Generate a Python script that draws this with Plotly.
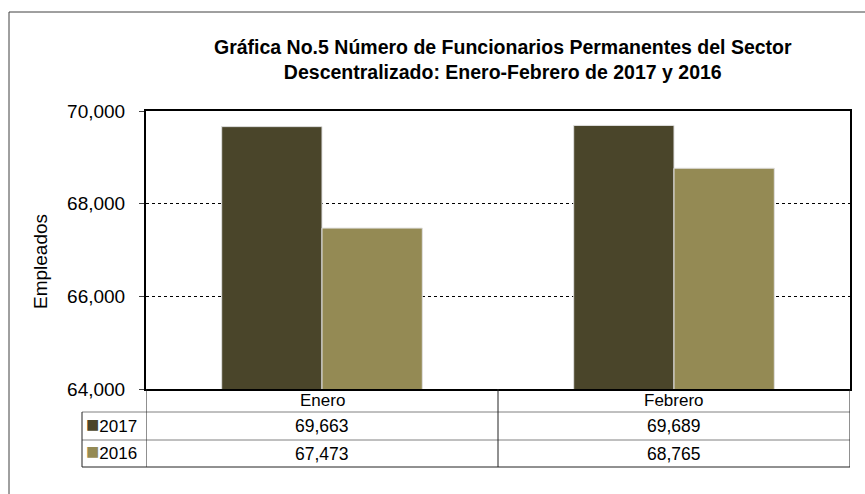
import plotly.graph_objects as go

# datos
meses = ["Enero", "Febrero"]
anios = ["2017", "2016"]
empleados_2017 = [69663, 69689]
empleados_2016 = [67473, 68765]
colores = ["#4A452A", "#948A54"]

titulo = "<b>Gráfica No.5 Número de Funcionarios Permanentes del Sector<br>Descentralizado: Enero-Febrero de 2017 y 2016</b>"

W, H = 865, 494
L, R, T, B = 146, 850, 111, 389
FONT = "Liberation Sans, Arial, sans-serif"


def px(xp):
    return (xp - L) / (R - L)


def py(yp):
    return (B - yp) / (B - T)


fig = go.Figure()
for anio, vals, col in zip(anios, [empleados_2017, empleados_2016], colores):
    fig.add_trace(
        go.Bar(
            x=meses,
            y=vals,
            name=anio,
            marker=dict(color=col, line=dict(color="#e0e0e0", width=1)),
        )
    )

fig.update_layout(
    width=W,
    height=H,
    margin=dict(l=L, r=W - R, t=T, b=H - B, pad=0),
    paper_bgcolor="white",
    plot_bgcolor="white",
    showlegend=False,
    barmode="group",
    bargap=0.43,
    bargroupgap=0,
    font=dict(family=FONT, color="black"),
)
fig.update_xaxes(
    range=[-0.5, 1.5],
    showticklabels=False,
    ticks="",
    showgrid=False,
    showline=True,
    mirror=True,
    linecolor="black",
    linewidth=2,
)
fig.update_yaxes(
    range=[64000, 70000],
    tickvals=[64000, 66000, 68000, 70000],
    tickformat=",d",
    tickfont=dict(size=19),
    ticks="outside",
    ticklen=5,
    tickcolor="#404040",
    ticklabelstandoff=10,
    showgrid=True,
    gridcolor="black",
    griddash="dot",
    gridwidth=1,
    showline=True,
    mirror=True,
    linecolor="black",
    linewidth=2,
    zeroline=False,
    automargin=False,
)


def texto(txt, x, y, size, xref="paper", **kw):
    fig.add_annotation(text=txt, xref=xref, yref="paper", x=x, y=y,
                       xanchor=kw.pop("xanchor", "center"), yanchor="middle",
                       showarrow=False, font=dict(size=size), **kw)


# titulo y eje
texto(titulo, px(503), py(59), 19.5, align="center")
texto("Empleados", px(40), py(262), 19, textangle=-90)

# marco exterior
line_outer = dict(color="#404040", width=1)
fig.add_shape(type="line", xref="paper", yref="paper",
              x0=px(9), x1=px(9), y0=py(12), y1=py(494), line=line_outer)
fig.add_shape(type="line", xref="paper", yref="paper",
              x0=px(9), x1=px(865), y0=py(12), y1=py(12), line=line_outer)

# tabla de datos
filas = [389, 412, 440, 467]
dark = dict(color="#222222", width=1)
gray = dict(color="#808080", width=1)
fig.add_shape(type="line", xref="paper", yref="paper",
              x0=px(82), x1=1, y0=py(412), y1=py(412), line=gray)
fig.add_shape(type="line", xref="paper", yref="paper",
              x0=px(82), x1=1, y0=py(440), y1=py(440), line=gray)
fig.add_shape(type="line", xref="paper", yref="paper",
              x0=px(82), x1=1, y0=py(467), y1=py(467), line=dark)
fig.add_shape(type="line", xref="paper", yref="paper",
              x0=px(82), x1=px(82), y0=py(412), y1=py(467), line=dark)
for xv in [-0.5, 0.5, 1.5]:
    fig.add_shape(type="line", xref="x", yref="paper",
                  x0=xv, x1=xv, y0=0, y1=py(467), line=dark)

for i, mes in enumerate(meses):
    texto(mes, mes, py((filas[0] + filas[1]) / 2), 17, xref="x")
    for j, vals in enumerate([empleados_2017, empleados_2016]):
        texto(f"{vals[i]:,}", mes, py((filas[j + 1] + filas[j + 2]) / 2), 17.5, xref="x")

for j, (anio, col) in enumerate(zip(anios, colores)):
    texto(f"<span style='color:{col};font-size:22px'>■</span>{anio}", px(84),
          py((filas[j + 1] + filas[j + 2]) / 2 - 2), 17, xanchor="left")

fig.write_html(
    "out.html",
    config={"displayModeBar": False},
    post_script="document.body.style.margin='0';",
)
